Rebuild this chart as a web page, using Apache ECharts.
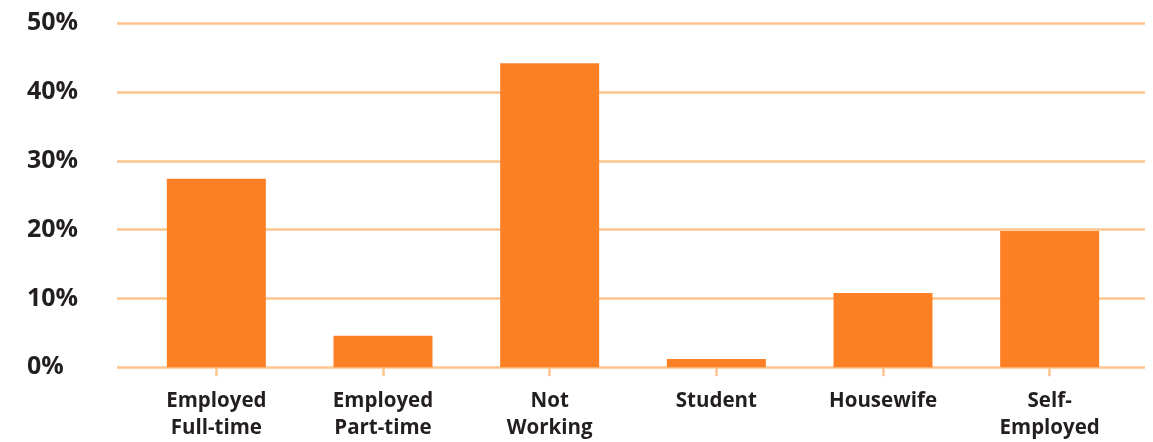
<!DOCTYPE html>
<html>
<head>
<meta charset="utf-8">
<script src="https://cdn.jsdelivr.net/npm/echarts@6/dist/echarts.min.js"></script>
<style>
  html, body { margin: 0; padding: 0; background: #fff; }
  #chart { width: 1153px; height: 442px; }
</style>
</head>
<body>
<div id="chart"></div>
<script>
// values
const categories = ['Employed\nFull-time', 'Employed\nPart-time', 'Not\nWorking', 'Student', 'Housewife', 'Self-\nEmployed']
const shares = [27.4, 4.6, 44.2, 1.2, 10.8, 19.8]
const yTicks = [0, 10, 20, 30, 40, 50]

const gridColor = '#fdc48e'
const barColor = '#fd8024'
const textColor = '#231f20'

let myChart = echarts.init(document.getElementById('chart'))
myChart.setOption({
  animation: false,
  grid: [
    // wide grid: only the y labels and the horizontal lines
    { left: 117, right: 8, top: 23.3, bottom: 74.7 },
    // narrower grid holding the bars
    { left: 133, right: 20, top: 23.3, bottom: 74.7 }
  ],
  xAxis: [
    { type: 'value', gridIndex: 0, show: false },
    {
      type: 'category',
      gridIndex: 1,
      data: categories,
      axisLine: { show: false },
      axisTick: { show: true, alignWithLabel: true, length: 9, lineStyle: { color: gridColor, width: 2.5 } },
      axisLabel: {
        margin: 20,
        color: textColor,
        fontFamily: 'Open Sans',
        fontWeight: 'bold',
        fontSize: 20.5,
        lineHeight: 27
      }
    }
  ],
  yAxis: [
    {
      type: 'value',
      gridIndex: 0,
      min: yTicks[0],
      max: yTicks[yTicks.length - 1],
      interval: 10,
      axisLine: { show: false },
      axisTick: { show: false },
      splitLine: { lineStyle: { color: gridColor, width: 2.5 } },
      axisLabel: {
        formatter: '{value}%',
        align: 'left',
        margin: 90,
        color: textColor,
        fontFamily: 'Open Sans',
        fontWeight: 'bold',
        fontSize: 25
      }
    },
    { type: 'value', gridIndex: 1, min: 0, max: 50, show: false }
  ],
  series: [{
    type: 'bar',
    xAxisIndex: 1,
    yAxisIndex: 1,
    data: shares,
    barWidth: 99,
    itemStyle: { color: barColor },
    z: 3
  }]
})
</script>
</body>
</html>
